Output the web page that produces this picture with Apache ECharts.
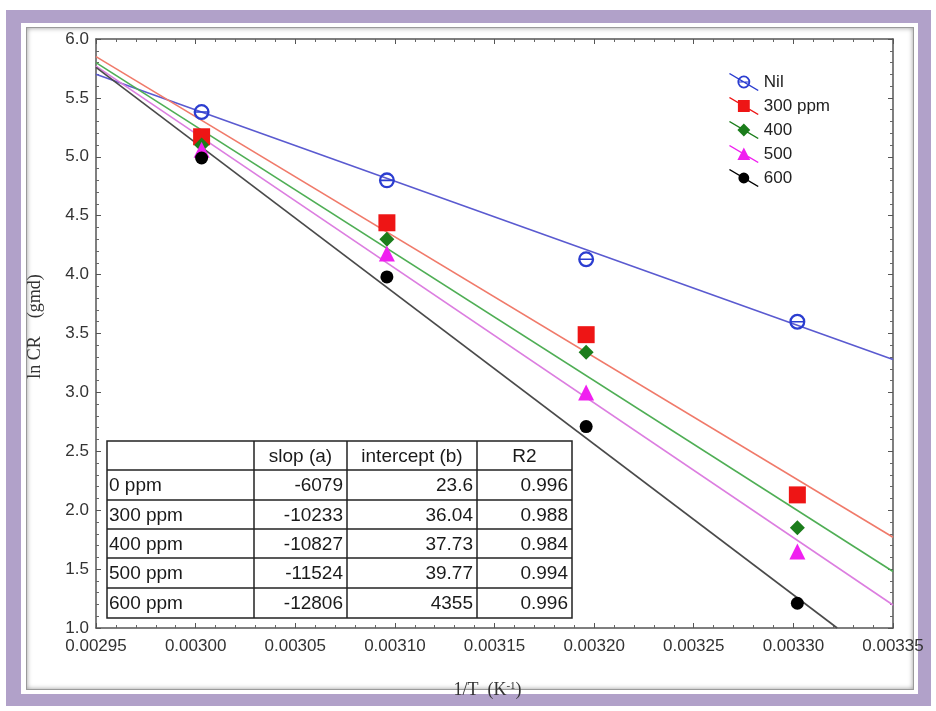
<!DOCTYPE html>
<html>
<head>
<meta charset="utf-8">
<script src="https://cdn.jsdelivr.net/npm/echarts/dist/echarts.min.js"></script>
<style>
  body { margin: 0; background: #fff; }
  #outer { position: absolute; left: 6px; top: 10px; width: 925px; height: 696px; background: #b1a1c9; }
  #inner { position: absolute; left: 21px; top: 23px; width: 897px; height: 671px; background: #fff; }
  #panel { position: absolute; left: 26px; top: 27px; width: 886px; height: 661px; border: 1px solid #9a9a9a;
           box-shadow: inset 0 0 5px #999; background: #fff; }
  #chart { position: absolute; left: 0; top: 0; width: 936px; height: 711px; }
</style>
</head>
<body>
<div id="outer"></div>
<div id="inner"></div>
<div id="panel"></div>
<div id="chart"></div>
<script>
// 1/T 取值
let invT = [0.003003, 0.003096, 0.003196, 0.003302];

// ln CR 实测点
let nilData = [5.38, 4.80, 4.13, 3.60];
let ppm300Data = [5.17, 4.44, 3.49, 2.13];
let ppm400Data = [5.10, 4.30, 3.34, 1.85];
let ppm500Data = [5.06, 4.18, 3.00, 1.65];
let ppm600Data = [4.99, 3.98, 2.71, 1.21];

// 拟合直线两端 [x, y]
let nilFit = [[0.00295, 5.70], [0.00335, 3.28]];
let ppm300Fit = [[0.00295, 5.85], [0.00335, 1.77]];
let ppm400Fit = [[0.00295, 5.80], [0.00335, 1.48]];
let ppm500Fit = [[0.00295, 5.77], [0.00335, 1.195]];
let ppm600Fit = [[0.00295, 5.76], [0.003322, 1.0]];

let legendNames = ['Nil', '300 ppm', '400', '500', '600'];

// 表格
let tableHeader = ['', 'slop (a)', 'intercept (b)', 'R2'];
let tableRows = [
  ['0 ppm', '-6079', '23.6', '0.996'],
  ['300 ppm', '-10233', '36.04', '0.988'],
  ['400 ppm', '-10827', '37.73', '0.984'],
  ['500 ppm', '-11524', '39.77', '0.994'],
  ['600 ppm', '-12806', '4355', '0.996']
];

let markColors = ['#2b3dd0', '#ee1515', '#1b7d1b', '#f020f0', '#000000'];
let lineColors = ['#5a5ad0', '#f07a6a', '#4fae55', '#dc7ee0', '#4a4a4a'];

// 散点符号
let ringPath = 'M4 9.5 A6 6 0 1 1 16 9.5 A6 6 0 1 1 4 9.5 Z M5.7 9.5 A4.3 4.3 0 1 0 14.3 9.5 A4.3 4.3 0 1 0 5.7 9.5 Z M5 8.9 H15 V10.1 H5 Z';
let squarePath = 'M5 4.5 H15 V14.5 H5 Z';
let diamondPath = 'M10 3.5 L16 9.5 L10 15.5 L4 9.5 Z';
let trianglePath = 'M10 3.5 L16 15 L4 15 Z';
let circlePath = 'M4.5 9.5 A5.5 5.5 0 1 1 15.5 9.5 A5.5 5.5 0 1 1 4.5 9.5 Z';
let markPaths = [ringPath, squarePath, diamondPath, trianglePath, circlePath];
let markSizes = [16, 17, 15, 16, 13];

// 图例符号 (斜线 + 标记)
let legendBar = 'M0 1.4 L0.9 0.4 L30 17.6 L29.1 18.6 Z ';
let legendPaths = [
  'M8.5 9.5 A6.5 6.5 0 1 1 21.5 9.5 A6.5 6.5 0 1 1 8.5 9.5 Z M10.3 9.5 A4.7 4.7 0 1 0 19.7 9.5 A4.7 4.7 0 1 0 10.3 9.5 Z M9.5 8.9 H20.5 V10.1 H9.5 Z',
  'M9 3.5 H21 V15.5 H9 Z',
  'M15 3 L21.5 9.5 L15 16 L8.5 9.5 Z',
  'M15 3 L21.5 15.5 L8.5 15.5 Z',
  'M9.5 9.5 A5.5 5.5 0 1 1 20.5 9.5 A5.5 5.5 0 1 1 9.5 9.5 Z'
];

let pointSets = [nilData, ppm300Data, ppm400Data, ppm500Data, ppm600Data];
let fitSets = [nilFit, ppm300Fit, ppm400Fit, ppm500Fit, ppm600Fit];

// 表格绘制
let colX = [107, 254, 347, 477, 572];
let rowY = [441, 470, 500, 529, 558, 588, 618];
let tableFont = '19px "Liberation Sans", Arial, sans-serif';

let tableChildren = [{
  type: 'rect',
  shape: { x: colX[0], y: rowY[0], width: colX[4] - colX[0], height: rowY[6] - rowY[0] },
  style: { fill: '#fff', stroke: '#222', lineWidth: 1.5 }
}];
colX.slice(1, 4).forEach(x => {
  tableChildren.push({ type: 'line', shape: { x1: x, y1: rowY[0], x2: x, y2: rowY[6] }, style: { stroke: '#222', lineWidth: 1.5 } });
});
rowY.slice(1, 6).forEach(y => {
  tableChildren.push({ type: 'line', shape: { x1: colX[0], y1: y, x2: colX[4], y2: y }, style: { stroke: '#222', lineWidth: 1.5 } });
});
tableHeader.forEach((h, i) => {
  tableChildren.push({
    type: 'text',
    style: { text: h, x: (colX[i] + colX[i + 1]) / 2, y: (rowY[0] + rowY[1]) / 2 + 1, align: 'center', verticalAlign: 'middle', font: tableFont, fill: '#1a1a1a' }
  });
});
tableRows.forEach((row, r) => {
  row.forEach((cell, i) => {
    let left = i === 0;
    tableChildren.push({
      type: 'text',
      style: {
        text: cell,
        x: left ? colX[0] + 2 : colX[i + 1] - 4,
        y: (rowY[r + 1] + rowY[r + 2]) / 2 + 1,
        align: left ? 'left' : 'right',
        verticalAlign: 'middle',
        font: tableFont,
        fill: '#1a1a1a'
      }
    });
  });
});

let axisCommon = {
  axisLine: { lineStyle: { color: '#555', width: 1.5 } },
  axisTick: { inside: true, length: 5, lineStyle: { color: '#555' } },
  minorTick: { show: true, splitNumber: 5, length: 3, lineStyle: { color: '#666' } },
  splitLine: { show: false }
};

let series = [];
fitSets.forEach((fit, i) => {
  series.push({
    name: legendNames[i] + ' fit',
    type: 'line',
    data: fit,
    symbol: 'none',
    silent: true,
    z: 2,
    lineStyle: { color: lineColors[i], width: 1.6 }
  });
});
pointSets.forEach((pts, i) => {
  series.push({
    name: legendNames[i],
    type: 'scatter',
    data: pts.map((y, k) => [invT[k], y]),
    symbol: 'path://' + markPaths[i],
    symbolSize: markSizes[i],
    z: 3,
    itemStyle: { color: markColors[i], opacity: 1 }
  });
});

let chart = echarts.init(document.getElementById('chart'));
chart.setOption({
  animation: false,
  grid: { left: 96, right: 43, top: 39, bottom: 83 },
  legend: {
    orient: 'vertical',
    left: 724,
    top: 68,
    itemWidth: 30,
    itemHeight: 18,
    itemGap: 6,
    textStyle: { fontSize: 17, color: '#222', fontFamily: '"Liberation Sans", Arial, sans-serif' },
    data: legendNames.map((n, i) => ({ name: n, icon: 'path://' + legendBar + legendPaths[i] }))
  },
  xAxis: [
    Object.assign({}, axisCommon, {
      type: 'value',
      min: 0.00295,
      max: 0.00335,
      interval: 0.00005,
      name: '1/T  (K{sup|-1})',
      nameLocation: 'middle',
      nameGap: 53,
      nameTextStyle: {
        fontSize: 18,
        color: '#333',
        padding: [0, 14, 0, 0],
        fontFamily: '"Liberation Serif", "Times New Roman", serif',
        rich: { sup: { fontSize: 11, verticalAlign: 'top', padding: [0, 0, 8, 0], fontFamily: '"Liberation Serif", serif', color: '#333' } }
      },
      axisLabel: {
        margin: 10,
        fontSize: 17,
        color: '#333',
        fontFamily: '"Liberation Sans", Arial, sans-serif',
        formatter: v => v.toFixed(5)
      }
    }),
    Object.assign({}, axisCommon, {
      type: 'value',
      position: 'top',
      min: 0.00295,
      max: 0.00335,
      interval: 0.00005,
      axisLabel: { show: false }
    })
  ],
  yAxis: [
    Object.assign({}, axisCommon, {
      type: 'value',
      min: 1,
      max: 6,
      interval: 0.5,
      name: 'ln CR    (gmd)',
      nameLocation: 'middle',
      nameGap: 52,
      nameTextStyle: { fontSize: 18, color: '#333', padding: [0, 0, 0, 14], fontFamily: '"Liberation Serif", "Times New Roman", serif' },
      axisLabel: {
        margin: 7,
        fontSize: 17,
        color: '#333',
        fontFamily: '"Liberation Sans", Arial, sans-serif',
        formatter: v => v.toFixed(1)
      }
    }),
    Object.assign({}, axisCommon, {
      type: 'value',
      position: 'right',
      min: 1,
      max: 6,
      interval: 0.5,
      axisLabel: { show: false }
    })
  ],
  series: series,
  graphic: [{ type: 'group', z: 100, children: tableChildren }]
});
</script>
</body>
</html>
